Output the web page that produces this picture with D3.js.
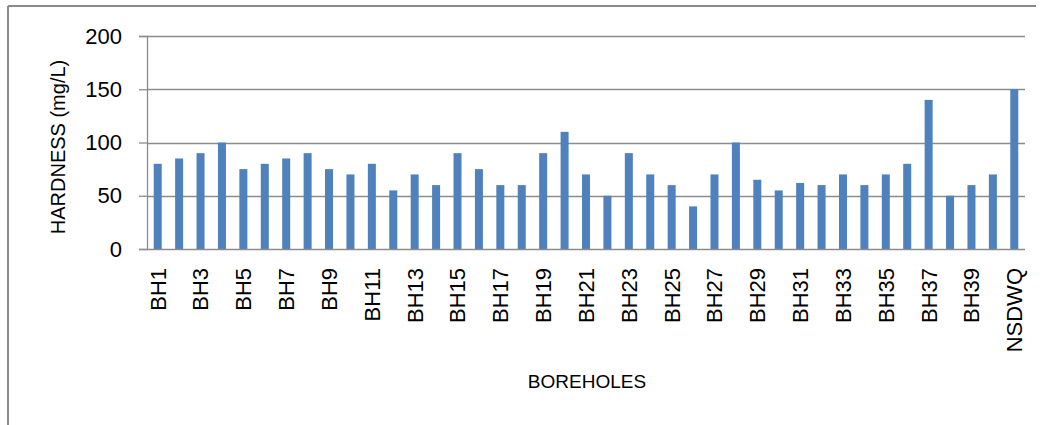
<!DOCTYPE html>
<html>
<head>
<meta charset="utf-8">
<script src="https://cdn.jsdelivr.net/npm/d3@7"></script>
<style>
  html, body { margin: 0; padding: 0; background: #fff; }
  svg { display: block; font-family: "Liberation Sans", Arial, sans-serif; }
</style>
</head>
<body>
<svg id="chart" width="1045" height="425"></svg>
<script>
// Boreholes sampled, followed by the NSDWQ reference limit
const categories = [
  "BH1","BH2","BH3","BH4","BH5","BH6","BH7","BH8","BH9","BH10",
  "BH11","BH12","BH13","BH14","BH15","BH16","BH17","BH18","BH19","BH20",
  "BH21","BH22","BH23","BH24","BH25","BH26","BH27","BH28","BH29","BH30",
  "BH31","BH32","BH33","BH34","BH35","BH36","BH37","BH38","BH39","BH40",
  "NSDWQ"
];
// Total hardness, mg/L
const hardness = [
  80, 85, 90, 100, 75, 80, 85, 90, 75, 70,
  80, 55, 70, 60, 90, 75, 60, 60, 90, 110,
  70, 50, 90, 70, 60, 40, 70, 100, 65, 55,
  62, 60, 70, 60, 70, 80, 140, 50, 60, 70,
  150
];
const yTicks = [0, 50, 100, 150, 200];

const svg = d3.select("#chart");
const plot = { left: 147, right: 1025, top: 36, bottom: 249 };
const gridColor = "#8c8c8c";

// Frame around the chart
svg.append("line").attr("x1", 8).attr("x2", 1036).attr("y1", 6).attr("y2", 6)
  .attr("stroke", "#8a8a8a").attr("stroke-width", 2);
svg.append("line").attr("x1", 8).attr("x2", 8).attr("y1", 6).attr("y2", 425)
  .attr("stroke", "#8a8a8a").attr("stroke-width", 2);

const x = d3.scaleBand().domain(categories).range([plot.left, plot.right])
  .paddingInner(0.626).paddingOuter(0.313);
const y = d3.scaleLinear().domain([0, 200]).range([plot.bottom, plot.top]);

// Horizontal gridlines
svg.append("g").selectAll("line").data(yTicks.filter(d => d > 0)).join("line")
  .attr("x1", plot.left).attr("x2", plot.right)
  .attr("y1", d => Math.round(y(d)) + 0.5).attr("y2", d => Math.round(y(d)) + 0.5)
  .attr("stroke", gridColor).attr("stroke-width", 1.3);

// Bars
svg.append("g").selectAll("rect").data(hardness).join("rect")
  .attr("x", (d, i) => x(categories[i]))
  .attr("width", x.bandwidth())
  .attr("y", d => y(d))
  .attr("height", d => y(0) - y(d))
  .attr("fill", "#4f81bd");

// Y axis
const yAxis = svg.append("g").attr("transform", `translate(${plot.left},0)`)
  .call(d3.axisLeft(y).tickValues(yTicks).tickSize(8).tickPadding(17).tickFormat(d3.format("d")));
yAxis.select(".domain").attr("stroke", gridColor).attr("stroke-width", 1.3);
yAxis.selectAll(".tick line").attr("stroke", gridColor).attr("stroke-width", 1.3);
yAxis.selectAll("text").attr("font-size", 22).attr("fill", "#000")
  .attr("font-family", "Liberation Sans, Arial, sans-serif");

// X axis, every other category labelled
const xAxis = svg.append("g").attr("transform", `translate(0,${plot.bottom})`)
  .call(d3.axisBottom(x).tickValues(categories.filter((d, i) => i % 2 === 0)).tickSize(0).tickSizeOuter(0));
xAxis.select(".domain").attr("stroke", gridColor).attr("stroke-width", 1.5)
  .attr("d", `M${plot.left},0.5H${plot.right}`);
xAxis.selectAll("text")
  .attr("font-size", 22).attr("fill", "#000")
  .attr("font-family", "Liberation Sans, Arial, sans-serif")
  .attr("transform", "rotate(-90)")
  .attr("text-anchor", "end")
  .attr("x", -19).attr("y", 0).attr("dy", "0.36em");

// Axis titles
svg.append("text")
  .attr("transform", "translate(58,147) rotate(-90)")
  .attr("text-anchor", "middle").attr("dominant-baseline", "central")
  .attr("font-size", 20).attr("fill", "#000")
  .text("HARDNESS (mg/L)");

svg.append("text")
  .attr("x", 587).attr("y", 388)
  .attr("text-anchor", "middle")
  .attr("font-size", 19).attr("fill", "#000")
  .text("BOREHOLES");
</script>
</body>
</html>
